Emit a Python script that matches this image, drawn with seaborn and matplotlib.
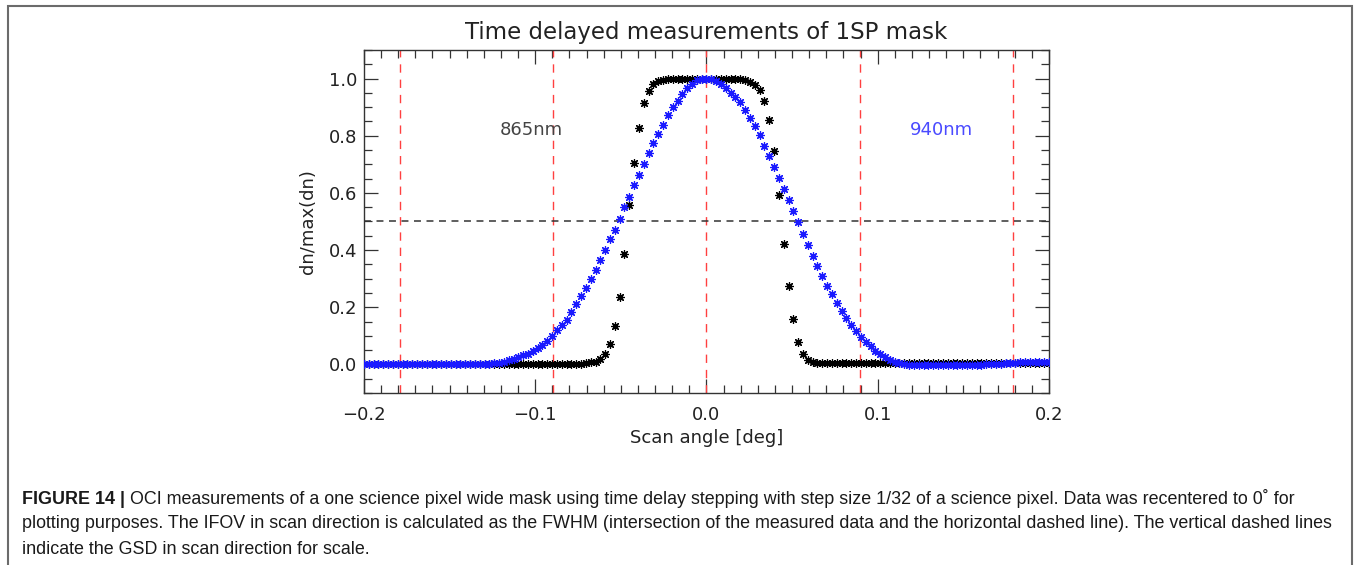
import numpy as np
import pandas as pd
import matplotlib
matplotlib.use("Agg")
import matplotlib.pyplot as plt
from matplotlib.patches import Rectangle
import seaborn as sns

# ---------------- data ----------------
scan_angle = np.linspace(-0.2, 0.2, 143)  # time-delay steps (~1/32 science pixel)

dn_865 = [
    0.002, 0.002, 0.002, 0.002, 0.002, 0.002, 0.002, 0.002, 0.002, 0.002,
    0.002, 0.002, 0.002, 0.002, 0.002, 0.002, 0.002, 0.002, 0.002, 0.002,
    0.002, 0.002, 0.002, 0.002, 0.002, 0.002, 0.002, 0.002, 0.002, 0.002,
    0.002, 0.002, 0.002, 0.002, 0.002, 0.002, 0.002, 0.002, 0.002, 0.002,
    0.002, 0.002, 0.002, 0.002, 0.002,
    0.003, 0.005, 0.007, 0.010, 0.018, 0.038, 0.072, 0.133, 0.237, 0.387,
    0.556, 0.703, 0.828, 0.914, 0.956, 0.981, 0.992, 0.996, 0.998,
    0.999, 1.000, 1.000, 1.000, 0.999, 1.000, 1.000, 1.000, 1.000, 0.999,
    1.000, 1.000, 0.999, 0.999,
    0.998, 0.995, 0.987, 0.978, 0.961, 0.920, 0.854, 0.745, 0.591, 0.422,
    0.276, 0.159, 0.079, 0.038, 0.017, 0.008, 0.005,
    0.004, 0.004, 0.004, 0.004, 0.004, 0.004, 0.004, 0.004, 0.004, 0.004,
    0.004, 0.004, 0.004, 0.004, 0.004, 0.004, 0.004, 0.004, 0.004, 0.004,
    0.004, 0.004, 0.004, 0.004, 0.004, 0.004, 0.004, 0.004, 0.004, 0.004,
    0.004, 0.004, 0.004, 0.004, 0.004, 0.004, 0.004, 0.004, 0.004, 0.004,
    0.004, 0.004, 0.004, 0.004, 0.004, 0.004, 0.004, 0.004,
]

dn_940 = [
    0.003, 0.003, 0.003, 0.003, 0.003, 0.003, 0.003, 0.003, 0.003, 0.003,
    0.003, 0.003, 0.003, 0.003, 0.003, 0.003, 0.003, 0.003, 0.003, 0.003,
    0.003, 0.003, 0.003, 0.003, 0.003, 0.003,
    0.003, 0.004, 0.006, 0.010, 0.014, 0.019, 0.025, 0.032, 0.038, 0.046,
    0.057, 0.068, 0.081, 0.098, 0.120, 0.139, 0.156, 0.182, 0.210, 0.240,
    0.268, 0.300, 0.329, 0.364, 0.400, 0.438, 0.470, 0.510, 0.550, 0.587,
    0.626, 0.662, 0.700, 0.740, 0.775, 0.806, 0.838, 0.874, 0.899, 0.922,
    0.947, 0.966, 0.982, 0.994, 0.999, 1.000,
    0.998, 0.992, 0.982, 0.967, 0.951, 0.936, 0.917, 0.890, 0.861, 0.834,
    0.802, 0.763, 0.728, 0.692, 0.651, 0.615, 0.574, 0.536, 0.497, 0.458,
    0.419, 0.380, 0.343, 0.308, 0.274, 0.245, 0.214, 0.186, 0.161, 0.138,
    0.117, 0.097, 0.080, 0.064, 0.048, 0.036, 0.025, 0.016, 0.009, 0.004,
    0.001, -0.001,
    -0.003, -0.003, -0.003, -0.003, -0.003, -0.003, -0.003, -0.003, -0.003, -0.003,
    -0.003, -0.003, -0.003,
    -0.002, -0.001, 0.000, 0.001, 0.002, 0.003, 0.004, 0.005, 0.006,
    0.007, 0.007, 0.007, 0.007, 0.007, 0.007, 0.007,
]

gsd_lines = [-0.1788, -0.0894, 0.0, 0.0894, 0.1788]
fwhm_level = 0.5

title = "Time delayed measurements of 1SP mask"
xlabel = "Scan angle [deg]"
ylabel = "dn/max(dn)"
label_865 = "865nm"
label_940 = "940nm"
x_ticks = [-0.2, -0.1, 0.0, 0.1, 0.2]
y_ticks = [0.0, 0.2, 0.4, 0.6, 0.8, 1.0]

caption_bold = "FIGURE 14 |"
caption_lines = [
    " OCI measurements of a one science pixel wide mask using time delay stepping with step size 1/32 of a science pixel. Data was recentered to 0\u02da for",
    "plotting purposes. The IFOV in scan direction is calculated as the FWHM (intersection of the measured data and the horizontal dashed line). The vertical dashed lines",
    "indicate the GSD in scan direction for scale.",
]

df865 = pd.DataFrame({"angle": scan_angle, "dn": dn_865})
df940 = pd.DataFrame({"angle": scan_angle, "dn": dn_940})

# ---------------- figure ----------------
sns.set_theme(style="white")
plt.rcParams["font.family"] = ["DejaVu Sans"]
plt.rcParams["lines.scale_dashes"] = False

W, H = 1354, 565
fig = plt.figure(figsize=(W / 100, H / 100), dpi=100)
fig.patch.set_facecolor("white")

# outer frame
fig.add_artist(Rectangle((8 / W, -0.02), (1352 - 8) / W, 1 - 6 / H + 0.02,
                         transform=fig.transFigure, fill=False,
                         edgecolor="#6b6b6b", linewidth=1.5))

ax = fig.add_axes([364 / W, 1 - 393 / H, (1049 - 364) / W, (393 - 50) / H])

star = (8, 2, 0)
sns.scatterplot(data=df865, x="angle", y="dn", ax=ax, marker=star, s=32,
                color="black", edgecolor="black", linewidth=0.9, zorder=3, legend=False)
sns.scatterplot(data=df940, x="angle", y="dn", ax=ax, marker=star, s=32,
                color="#1a1aff", edgecolor="#1a1aff", linewidth=0.9, zorder=4, legend=False)

for g in gsd_lines:
    ax.axvline(g, color="#ff4040", linewidth=1.0, dashes=(6, 5), zorder=1)
ax.axhline(fwhm_level, color="#333333", linewidth=1.1, dashes=(5, 4), zorder=1)

ax.set_xlim(-0.2, 0.2)
ax.set_ylim(-0.1, 1.1)
ax.set_xticks(x_ticks)
ax.set_xticklabels([f"{v:.1f}".replace("-", "\u2212") for v in x_ticks])
ax.set_yticks(y_ticks)
ax.set_yticklabels([f"{v:.1f}" for v in y_ticks])
ax.set_xticks(np.arange(-0.2, 0.2001, 0.01), minor=True)
ax.set_yticks(np.arange(-0.1, 1.1001, 0.05), minor=True)

ax.tick_params(which="both", direction="in", top=True, right=True,
               bottom=True, left=True, color="#333333", width=0.9)
ax.tick_params(which="major", length=10, labelsize=13, labelcolor="#222222")
ax.tick_params(axis="x", which="major", pad=9)
ax.tick_params(axis="y", which="major", pad=5)
ax.tick_params(which="minor", length=5.5)
for sp in ax.spines.values():
    sp.set_color("#333333")
    sp.set_linewidth(1.0)

ax.set_title(title, fontsize=16.5, color="#222222", pad=8)
ax.set_xlabel(xlabel, fontsize=13, color="#222222", labelpad=4)
ax.set_ylabel(ylabel, fontsize=13, color="#222222", labelpad=8)

ax.text(-0.1206, 0.82, label_865, fontsize=13, color="#444444", va="center", ha="left")
ax.text(0.1189, 0.82, label_940, fontsize=13, color="#4a4aff", va="center", ha="left")

# caption
cap_family = ["Liberation Sans Narrow", "Liberation Sans", "DejaVu Sans"]
cap_size = 12.85
ys = [1 - 499 / H, 1 - 524 / H, 1 - 549 / H]
tb = fig.text(22 / W, ys[0], caption_bold, fontsize=cap_size, fontweight="bold",
              family=cap_family, color="#1a1a1a", va="center", ha="left")
fig.canvas.draw()
ext = tb.get_window_extent(renderer=fig.canvas.get_renderer())
fig.text(ext.x1 / W, ys[0], caption_lines[0], fontsize=cap_size, family=cap_family,
         color="#1a1a1a", va="center", ha="left")
for yv, line in zip(ys[1:], caption_lines[1:]):
    fig.text(22 / W, yv, line, fontsize=cap_size, family=cap_family,
             color="#1a1a1a", va="center", ha="left")

fig.savefig("out.png", dpi=100, facecolor="white")
